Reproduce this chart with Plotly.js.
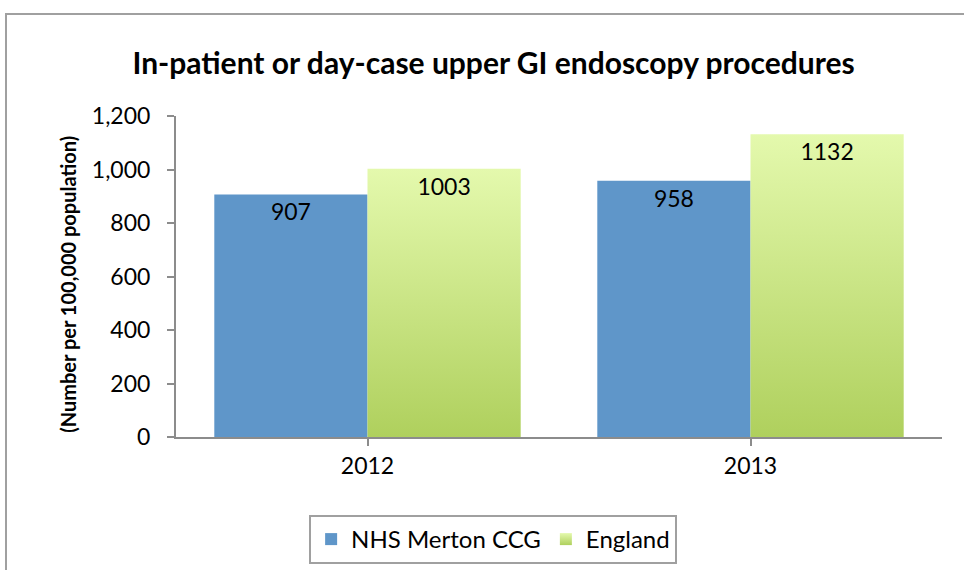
<!DOCTYPE html>
<html>
<head>
<meta charset="utf-8">
<script src="https://cdn.plot.ly/plotly-3.0.1.min.js"></script>
<style>
  body { margin: 0; background: #fff; }
  #chart { width: 964px; height: 570px; }
  #frame { position: absolute; left: 5px; top: 13px; width: 1000px; height: 600px;
           border: 2px solid #a0a0a0; pointer-events: none; }
</style>
</head>
<body>
<div id="chart"></div>
<div id="frame"></div>
<script>
// Categories and series
var years = ['2012', '2013'];
var merton = [907, 958];
var england = [1003, 1132];
var yTicks = [0, 200, 400, 600, 800, 1000, 1200];
var yTickText = ['0', '200', '400', '600', '800', '1,000', '1,200'];

var font = 'Lato, "Open Sans", sans-serif';

var trace1 = {
  x: years,
  y: merton,
  name: 'NHS Merton CCG',
  type: 'bar',
  marker: { color: '#5f96c9' },
  text: merton.map(String),
  textposition: 'inside',
  insidetextanchor: 'end',
  textfont: { family: font, size: 23, color: '#000' },
  hoverinfo: 'none'
};

var trace2 = {
  x: years,
  y: england,
  name: 'England',
  type: 'bar',
  marker: { color: '#c6e28a' },
  text: england.map(String),
  textposition: 'inside',
  insidetextanchor: 'end',
  textfont: { family: font, size: 23, color: '#000' },
  hoverinfo: 'none'
};

var layout = {
  width: 964,
  height: 570,
  margin: { l: 176, r: 22, t: 116, b: 133, autoexpand: false },
  paper_bgcolor: '#fff',
  plot_bgcolor: '#fff',
  font: { family: font, size: 23, color: '#000' },
  title: {
    text: '<b>In-patient or day-case upper GI endoscopy procedures</b>',
    font: { family: font, size: 30, color: '#000' },
    x: 0.512, xref: 'container', xanchor: 'center',
    y: 0.888, yref: 'container', yanchor: 'middle'
  },
  barmode: 'group',
  bargap: 0.2,
  bargroupgap: 0,
  showlegend: true,
  legend: {
    orientation: 'h',
    x: 0.414, xanchor: 'center',
    y: -0.243, yanchor: 'top',
    bordercolor: '#a0a0a0',
    borderwidth: 2,
    font: { family: font, size: 24, color: '#000' },
    itemsizing: 'constant'
  },
  xaxis: {
    showline: true, linecolor: '#8c8c8c', linewidth: 2,
    ticks: 'outside', tickson: 'boundaries', ticklen: 7, tickcolor: '#8c8c8c', tickwidth: 2,
    tickfont: { family: font, size: 23 },
    showgrid: false, automargin: false
  },
  yaxis: {
    range: [0, 1200],
    tickvals: yTicks, ticktext: yTickText,
    showline: true, linecolor: '#8c8c8c', linewidth: 2,
    ticks: 'outside', ticklen: 7, tickcolor: '#8c8c8c', tickwidth: 2,
    ticklabelstandoff: 12,
    tickfont: { family: font, size: 23 },
    showgrid: false, zeroline: false, automargin: false
  },
  annotations: [{
    text: '<b>(Number per 100,000 population)</b>',
    textangle: -90,
    xref: 'paper', yref: 'paper',
    x: -0.142, y: 0.475,
    xanchor: 'center', yanchor: 'middle',
    showarrow: false,
    font: { family: font, size: 20, color: '#000' }
  }]
};

// green bars get a vertical gradient like the original
function addGradient(gd) {
  var svg = gd.querySelector('svg.main-svg');
  if (!svg) return;
  var ns = 'http://www.w3.org/2000/svg';
  var defs = svg.querySelector('defs');
  if (!defs.querySelector('#greenGrad')) {
    var g = document.createElementNS(ns, 'linearGradient');
    g.setAttribute('id', 'greenGrad');
    g.setAttribute('x1', '0'); g.setAttribute('y1', '0');
    g.setAttribute('x2', '0'); g.setAttribute('y2', '1');
    [['0', '#e4f9ad'], ['1', '#afd05d']].forEach(function (s) {
      var st = document.createElementNS(ns, 'stop');
      st.setAttribute('offset', s[0]);
      st.setAttribute('stop-color', s[1]);
      g.appendChild(st);
    });
    defs.appendChild(g);
  }
  var traces = gd.querySelectorAll('.barlayer .trace');
  if (traces.length > 1) {
    traces[1].querySelectorAll('path').forEach(function (p) {
      p.style.fill = 'url(#greenGrad)';
    });
  }
  var leg = gd.querySelectorAll('.legend .traces');
  if (leg.length > 1) {
    leg[1].querySelectorAll('path').forEach(function (p) {
      p.style.fill = 'url(#greenGrad)';
    });
  }
}

Plotly.newPlot('chart', [trace1, trace2], layout, { displayModeBar: false, staticPlot: true })
  .then(function (gd) { addGradient(gd); });
</script>
</body>
</html>
